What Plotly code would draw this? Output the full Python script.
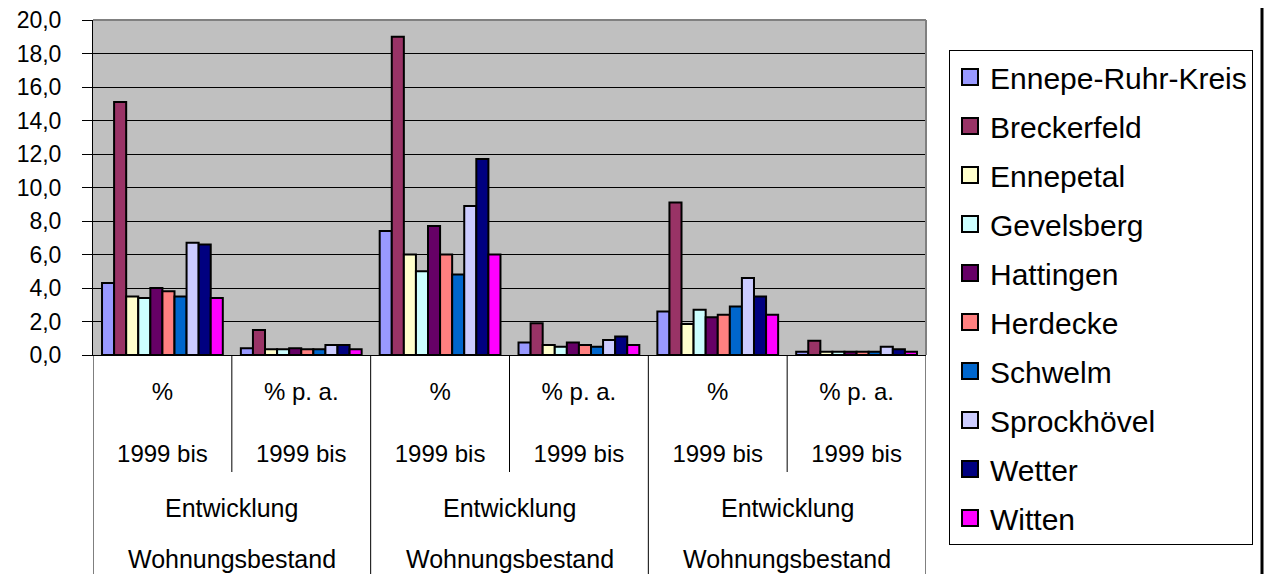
import plotly.graph_objects as go

# ---- data ----
inner_labels = ["%<br><br>1999 bis", "% p. a.<br><br>1999 bis",
                "%<br><br>1999 bis", "% p. a.<br><br>1999 bis",
                "%<br><br>1999 bis", "% p. a.<br><br>1999 bis"]
outer_line1 = ["Entwicklung", "Entwicklung", "Entwicklung"]
outer_line2 = ["Wohnungsbestand", "Wohnungsbestand", "Wohnungsbestand"]

series_names = ["Ennepe-Ruhr-Kreis", "Breckerfeld", "Ennepetal", "Gevelsberg",
                "Hattingen", "Herdecke", "Schwelm", "Sprockhövel", "Wetter", "Witten"]

ennepe_ruhr_kreis = [4.3, 0.4, 7.4, 0.75, 2.6, 0.2]
breckerfeld = [15.1, 1.5, 19.0, 1.9, 9.1, 0.85]
ennepetal = [3.5, 0.35, 6.0, 0.6, 1.85, 0.2]
gevelsberg = [3.4, 0.35, 5.0, 0.5, 2.7, 0.2]
hattingen = [4.0, 0.4, 7.7, 0.75, 2.25, 0.2]
herdecke = [3.8, 0.35, 6.0, 0.6, 2.4, 0.2]
schwelm = [3.5, 0.35, 4.8, 0.5, 2.9, 0.2]
sprockhoevel = [6.7, 0.6, 8.9, 0.9, 4.6, 0.5]
wetter = [6.6, 0.6, 11.7, 1.1, 3.5, 0.35]
witten = [3.4, 0.35, 6.0, 0.6, 2.4, 0.2]

series_values = [ennepe_ruhr_kreis, breckerfeld, ennepetal, gevelsberg, hattingen,
                 herdecke, schwelm, sprockhoevel, wetter, witten]

colors = ["#9999FF", "#993366", "#FFFFCC", "#CCFFFF", "#660066",
          "#FF8080", "#0066CC", "#CCCCFF", "#000080", "#FF00FF"]

y_ticks = [0, 2, 4, 6, 8, 10, 12, 14, 16, 18, 20]

FONT = "Liberation Sans, Arial, sans-serif"

# ---- figure geometry (page body has an 8px margin on every side) ----
OFF = 8
W, H = 1272 - 2 * OFF, 582 - 2 * OFF
PL, PR, PT, PB = 93 - OFF, 926 - OFF, 20 - OFF, 355 - OFF  # plot area in figure px
plot_h = PB - PT
plot_w = PR - PL

positions = list(range(len(inner_labels)))
n = len(inner_labels)

fig = go.Figure()
for name, vals, col in zip(series_names, series_values, colors):
    fig.add_trace(go.Bar(
        x=positions, y=vals, name=name,
        marker=dict(color=col, line=dict(color="black", width=2)),
        showlegend=False, legendgroup=name,
    ))
    # legend entry with a larger square swatch
    fig.add_trace(go.Scatter(
        x=[None], y=[None], mode="markers", name=name, legendgroup=name,
        marker=dict(symbol="square", size=16, color=col,
                    line=dict(color="black", width=2)),
        showlegend=True,
    ))


def py(p):
    """reference-page pixel y -> paper y"""
    return (PB - (p - OFF)) / plot_h


def px(p):
    """reference-page pixel x -> paper x"""
    return ((p - OFF) - PL) / plot_w


shapes = []
# plot area top and right border (gray)
shapes.append(dict(type="line", xref="paper", yref="paper", x0=0, x1=1, y0=1, y1=1,
                   line=dict(color="#808080", width=2)))
shapes.append(dict(type="line", xref="paper", yref="paper", x0=1, x1=1, y0=0, y1=1,
                   line=dict(color="#808080", width=2)))
# category table lines
for k in range(0, n + 1, 2):
    shapes.append(dict(type="line", xref="x", yref="paper", x0=k - 0.5, x1=k - 0.5,
                       y0=0, y1=py(600), line=dict(color="black", width=1)))
for k in range(1, n, 2):
    shapes.append(dict(type="line", xref="x", yref="paper", x0=k - 0.5, x1=k - 0.5,
                       y0=0, y1=py(472), line=dict(color="black", width=1)))
# outer chart border at the right edge
shapes.append(dict(type="line", xref="paper", yref="paper",
                   x0=px(1262), x1=px(1262), y0=py(0), y1=py(600),
                   line=dict(color="black", width=3)))

annotations = []
for g, (l1, l2) in enumerate(zip(outer_line1, outer_line2)):
    xc = 2 * g + 0.5
    annotations.append(dict(x=xc, y=py(508), xref="x", yref="paper", text=l1,
                            showarrow=False, yanchor="middle",
                            font=dict(family=FONT, size=25, color="black")))
    annotations.append(dict(x=xc, y=py(574), xref="x", yref="paper", text=l2,
                            showarrow=False, yanchor="bottom", borderpad=0,
                            font=dict(family=FONT, size=25, color="black")))

fig.update_layout(
    width=W, height=H,
    margin=dict(l=PL, r=W - PR, t=PT, b=H - PB, autoexpand=False),
    paper_bgcolor="white",
    plot_bgcolor="#C0C0C0",
    separators=",.",
    barmode="group",
    bargap=0.13,
    bargroupgap=0,
    font=dict(family=FONT, color="black"),
    xaxis=dict(
        range=[-0.5, n - 0.5],
        tickmode="array", tickvals=positions, ticktext=inner_labels,
        ticks="", showgrid=False, zeroline=False,
        showline=True, linecolor="black", linewidth=1,
        tickfont=dict(family=FONT, size=24, color="black"),
        ticklabelstandoff=15,
    ),
    yaxis=dict(
        range=[0, 20], tickmode="array", tickvals=y_ticks, tickformat=".1f",
        showgrid=True, gridcolor="black", gridwidth=1,
        zeroline=False, showline=True, linecolor="black", linewidth=1,
        ticks="outside", ticklen=10, tickcolor="black", tickwidth=1,
        tickfont=dict(family=FONT, size=23, color="black"),
        ticklabelstandoff=16,
        ticklabeloverflow="allow",
    ),
    legend=dict(
        x=px(949), xanchor="left",
        y=py(50), yanchor="top",
        bgcolor="white", bordercolor="black", borderwidth=1,
        font=dict(family=FONT, size=30, color="black"),
        tracegroupgap=7,
        maxheight=700,
        itemclick=False,
    ),
    shapes=shapes,
    annotations=annotations,
)

fig.write_html("out.html")
